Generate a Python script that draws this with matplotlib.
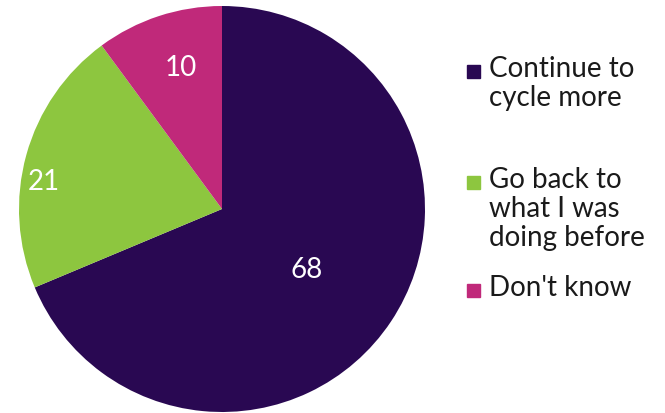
import numpy as np
import matplotlib
matplotlib.use("Agg")
import matplotlib.pyplot as plt
from matplotlib.patches import Rectangle

plt.rcParams['font.family'] = ['Lato', 'DejaVu Sans']

categories = ["Continue to\ncycle more", "Go back to\nwhat I was\ndoing before", "Don't know"]
values = [68, 21, 10]
colors = ["#290852", "#8DC63F", "#C0297A"]

fig = plt.figure(figsize=(6.65, 4.14), dpi=100)
ax = fig.add_axes([19 / 665, 1 / 414, 406 / 665, 406 / 414])
wedges, _ = ax.pie(values, colors=colors, startangle=90, counterclock=False,
                   radius=1.0, wedgeprops=dict(linewidth=0))
ax.set_xlim(-1, 1)
ax.set_ylim(-1, 1)
ax.set_aspect('equal')
ax.axis('off')

# value labels inside each slice: (radial distance, angular nudge in degrees)
label_place = [(0.51, -1.5), (0.89, 6.5), (0.73, -2.0)]
for w, v, (r, da) in zip(wedges, values, label_place):
    mid = np.deg2rad((w.theta1 + w.theta2) / 2 + da)
    ax.text(r * np.cos(mid), r * np.sin(mid), str(v), color="white",
            fontsize=20, ha="center", va="center")

# legend on the right
rows = [72, 183, 291]
for cat, col, y in zip(categories, colors, rows):
    yf = 1 - y / 414
    fig.patches.append(Rectangle((467 / 665, yf - 7 / 414), 13 / 665, 13 / 414,
                                 transform=fig.transFigure, color=col))
    fig.text(489 / 665, 1 - (y - 16) / 414, cat, fontsize=20, color="#1a1a1a",
             ha="left", va="top", linespacing=1.15)

fig.savefig("out.png", dpi=100)
